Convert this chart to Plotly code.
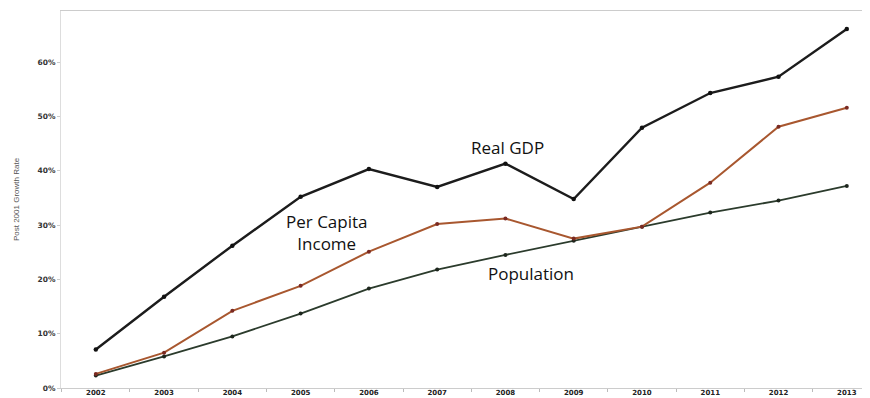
import plotly.graph_objects as go

years = [2002, 2003, 2004, 2005, 2006, 2007, 2008, 2009, 2010, 2011, 2012, 2013]
real_gdp = [7.1, 16.8, 26.2, 35.2, 40.3, 37.0, 41.3, 34.8, 47.9, 54.3, 57.3, 66.1]
per_capita_income = [2.6, 6.5, 14.2, 18.8, 25.1, 30.2, 31.2, 27.5, 29.7, 37.8, 48.1, 51.6]
population = [2.3, 5.8, 9.5, 13.7, 18.3, 21.8, 24.5, 27.1, 29.7, 32.3, 34.5, 37.2]
y_ticks = [0, 10, 20, 30, 40, 50, 60]
y_tick_labels = ["0%", "10%", "20%", "30%", "40%", "50%", "60%"]

fig = go.Figure()
fig.add_trace(go.Scatter(x=years, y=population, mode="lines+markers", name="Population",
                         line=dict(color="#2b3b2c", width=1.8), marker=dict(size=4, color="#1d261d")))
fig.add_trace(go.Scatter(x=years, y=per_capita_income, mode="lines+markers", name="Per Capita Income",
                         line=dict(color="#a8572f", width=2), marker=dict(size=4, color="#7a2a22")))
fig.add_trace(go.Scatter(x=years, y=real_gdp, mode="lines+markers", name="Real GDP",
                         line=dict(color="#1c1c1c", width=2.4), marker=dict(size=4.5, color="#111111")))

ann_font = dict(family="Open Sans, Lato, sans-serif", size=17, color="#111111")
fig.add_annotation(x=2008.03, y=44.2, text="Real GDP", showarrow=False, font=ann_font)
fig.add_annotation(x=2005.38, y=28.6, text="Per Capita<br>Income", showarrow=False, font=ann_font)
fig.add_annotation(x=2008.37, y=21.0, text="Population", showarrow=False, font=ann_font)

fig.update_layout(
    width=862, height=390,
    margin=dict(l=53, r=0, t=3, b=10),
    paper_bgcolor="white", plot_bgcolor="white",
    showlegend=False,
    xaxis=dict(
        range=[2001.49, 2013.34],
        tickmode="array", tickvals=years, ticktext=[str(y) for y in years],
        ticks="", showgrid=False, zeroline=False,
        showline=True, linecolor="#cccccc", linewidth=1, mirror=True,
        tickfont=dict(family="DejaVu Sans, Arial, sans-serif", size=7, color="#222222", weight="bold"),
        ticklabelstandoff=-2,
        minor=dict(tick0=2001.5, dtick=1, ticks="outside", ticklen=3, tickcolor="#bbbbbb", showgrid=False),
        automargin=False,
    ),
    yaxis=dict(
        range=[0, 69.4],
        tickmode="array", tickvals=y_ticks, ticktext=y_tick_labels,
        ticks="outside", ticklen=3, tickcolor="#cccccc",
        showgrid=False, zeroline=False,
        showline=True, linecolor="#dddddd", linewidth=1,
        tickfont=dict(family="DejaVu Sans, Arial, sans-serif", size=7.5, color="#333333", weight="bold"),
        title=dict(text="Post 2001 Growth Rate", standoff=16,
                   font=dict(family="Liberation Sans Narrow, Liberation Sans, sans-serif", size=8, color="#555555")),
        automargin=False,
    ),
)

fig.write_html("out.html")
